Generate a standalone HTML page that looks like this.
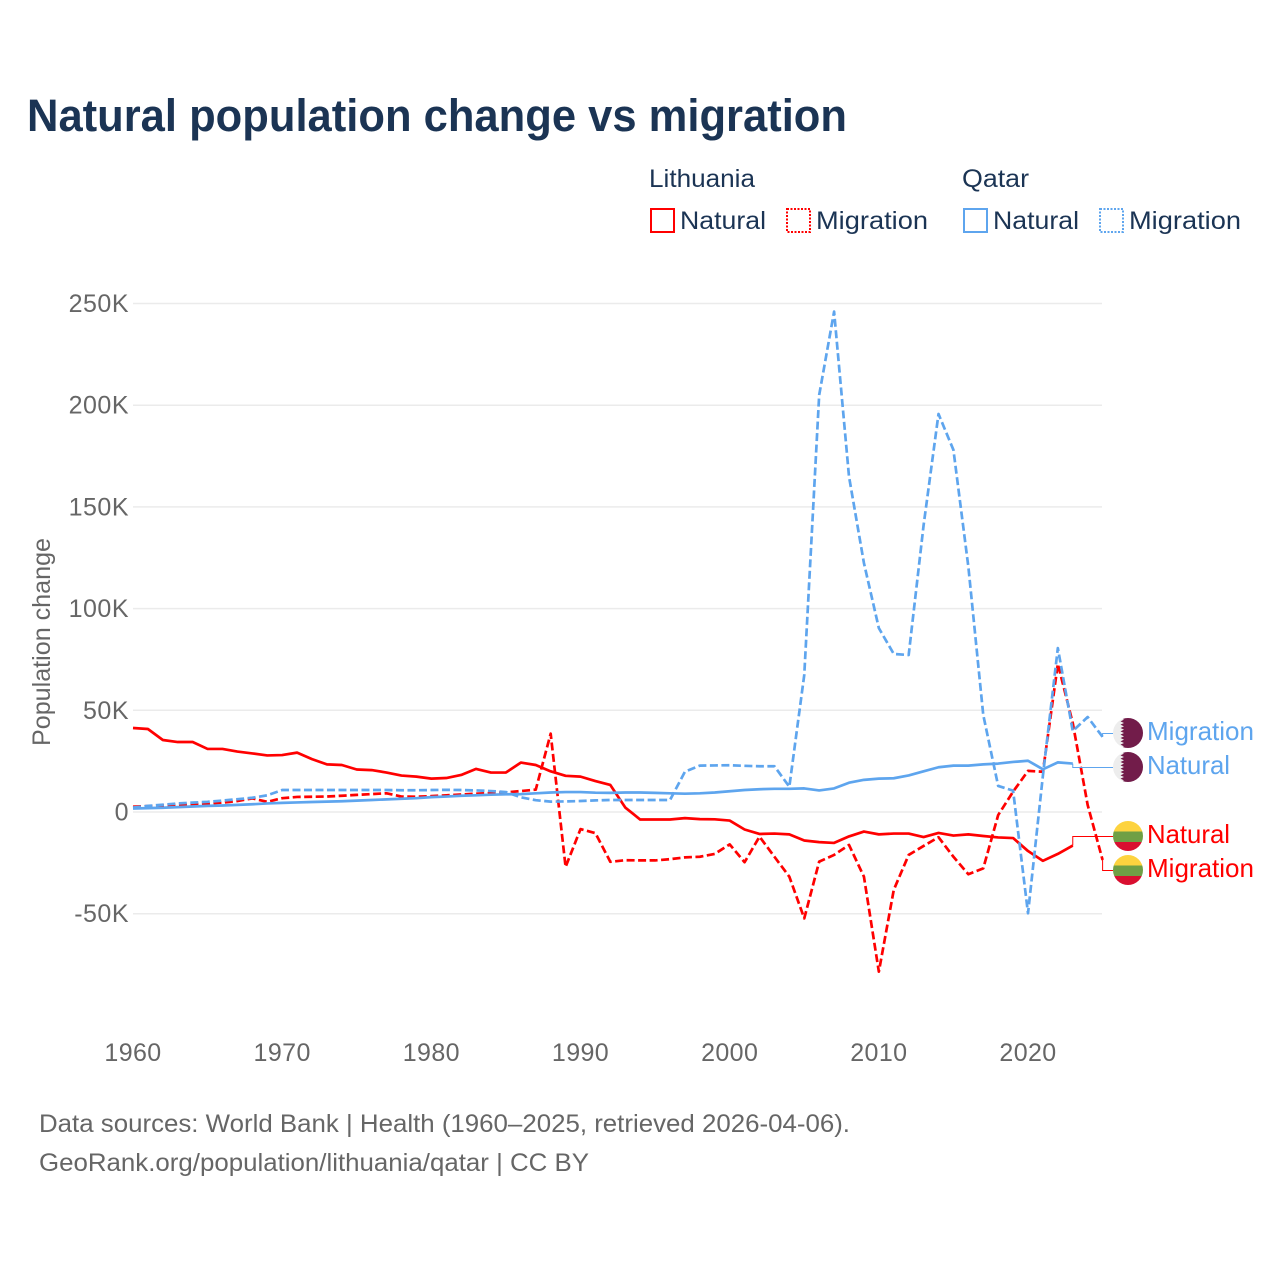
<!DOCTYPE html>
<html lang="en">
<head>
<meta charset="utf-8">
<title>Natural population change vs migration</title>
<style>
html,body{margin:0;padding:0;background:#fff;}
svg{display:block;font-family:"Liberation Sans",sans-serif;}
.legend{font-size:25px;fill:#1b3454;}
.tick{font-size:25px;fill:#666;}
.foot{font-size:25px;fill:#666;}
.end{font-size:26px;}
</style>
</head>
<body>
<svg id="chart" width="1280" height="1280" viewBox="0 0 1280 1280" xmlns="http://www.w3.org/2000/svg">
  <rect width="1280" height="1280" fill="#fff"/>
  <text x="27" y="131" font-size="45" font-weight="700" fill="#1b3454" textLength="820" lengthAdjust="spacingAndGlyphs">Natural population change vs migration</text>

  <g>
    <text class="legend" x="649" y="187" textLength="106" lengthAdjust="spacingAndGlyphs">Lithuania</text>
    <text class="legend" x="962" y="187" textLength="67" lengthAdjust="spacingAndGlyphs">Qatar</text>
    <rect x="651" y="209" width="23" height="23" fill="none" stroke="#ff0000" stroke-width="2"/>
    <text class="legend" x="680" y="229" textLength="86" lengthAdjust="spacingAndGlyphs">Natural</text>
    <rect x="787" y="209" width="23" height="23" fill="none" stroke="#ff0000" stroke-width="2" stroke-dasharray="2 1.5"/>
    <text class="legend" x="816" y="229" textLength="112" lengthAdjust="spacingAndGlyphs">Migration</text>
    <rect x="964" y="209" width="23" height="23" fill="none" stroke="#5ea5ee" stroke-width="2"/>
    <text class="legend" x="993" y="229" textLength="86" lengthAdjust="spacingAndGlyphs">Natural</text>
    <rect x="1100" y="209" width="23" height="23" fill="none" stroke="#5ea5ee" stroke-width="2" stroke-dasharray="2 1.5"/>
    <text class="legend" x="1129" y="229" textLength="112" lengthAdjust="spacingAndGlyphs">Migration</text>
  </g>

  <text class="tick" transform="translate(50,642) rotate(-90)" text-anchor="middle" textLength="208" lengthAdjust="spacingAndGlyphs">Population change</text>

  <g id="grid"></g>
  <g id="yticks"></g>
  <g id="xticks"></g>
  <g id="series"></g>

  <defs>
    <clipPath id="flagClip"><circle cx="0" cy="0" r="15"/></clipPath>
  </defs>
  <g id="flags"></g>

  <text class="end" x="1147" y="740" fill="#5ea5ee" textLength="107" lengthAdjust="spacingAndGlyphs">Migration</text>
  <text class="end" x="1147" y="774" fill="#5ea5ee" textLength="83" lengthAdjust="spacingAndGlyphs">Natural</text>
  <text class="end" x="1147" y="843" fill="#ff0000" textLength="83" lengthAdjust="spacingAndGlyphs">Natural</text>
  <text class="end" x="1147" y="877" fill="#ff0000" textLength="107" lengthAdjust="spacingAndGlyphs">Migration</text>

  <text class="foot" x="39" y="1132" textLength="811" lengthAdjust="spacingAndGlyphs">Data sources: World Bank | Health (1960–2025, retrieved 2026-04-06).</text>
  <text class="foot" x="39" y="1171" textLength="550" lengthAdjust="spacingAndGlyphs">GeoRank.org/population/lithuania/qatar | CC BY</text>
</svg>

<script>
// Values in thousands of people
const years = [1960,1961,1962,1963,1964,1965,1966,1967,1968,1969,1970,1971,1972,1973,1974,1975,1976,1977,1978,1979,1980,1981,1982,1983,1984,1985,1986,1987,1988,1989,1990,1991,1992,1993,1994,1995,1996,1997,1998,1999,2000,2001,2002,2003,2004,2005,2006,2007,2008,2009,2010,2011,2012,2013,2014,2015,2016,2017,2018,2019,2020,2021,2022,2023,2024,2025];
const lithuaniaNatural = [41.3,40.8,35.4,34.4,34.4,31,31,29.7,28.8,27.8,28,29.2,26,23.4,23.1,20.9,20.6,19.4,17.9,17.4,16.4,16.7,18.2,21.2,19.4,19.4,24.3,23.1,20,17.8,17.4,15.2,13.3,2.2,-3.7,-3.7,-3.7,-3,-3.5,-3.6,-4.2,-8.6,-10.8,-10.6,-11,-14,-14.8,-15.2,-12,-9.6,-11,-10.6,-10.6,-12.3,-10.3,-11.6,-11,-11.8,-12.5,-12.8,-19.2,-24,-20.6,-16.5];
const lithuaniaMigration = [2.6,2.9,3.2,3.5,3.8,4.1,4.6,5.4,6.7,5,6.8,7.4,7.5,7.6,8,8.4,8.8,9.2,7.6,7.5,7.8,8.2,8.6,9,9.3,9.6,10.3,11,38.5,-27,-8.4,-10.4,-24.5,-23.7,-23.8,-23.8,-23.2,-22.3,-22,-20.6,-15.9,-24.7,-12.1,-22,-31.8,-52.3,-24.4,-21.1,-16.2,-31.8,-78.5,-38.3,-21.1,-16.7,-12.4,-22,-30.6,-27.7,-1.5,10,20.2,19.8,72.8,43.7,3.4,-23.6];
const qatarNatural = [1.7,1.9,2.1,2.4,2.7,3,3.2,3.5,3.8,4.2,4.5,4.7,4.9,5.1,5.3,5.6,5.9,6.2,6.5,6.8,7.3,7.6,8,8.2,8.5,8.7,8.8,9.2,9.6,9.8,9.8,9.5,9.4,9.6,9.6,9.4,9.2,9,9.2,9.6,10.2,10.8,11.2,11.4,11.4,11.6,10.6,11.6,14.4,15.8,16.4,16.6,18,20,22,22.8,22.8,23.4,23.8,24.6,25.2,21,24.4,23.8];
const qatarMigration = [2.2,3,3.6,4.2,4.6,5,5.6,6.3,7,8.2,10.8,10.8,10.8,10.8,10.8,10.8,10.8,10.8,10.7,10.7,10.8,10.9,10.8,10.6,10.3,9.8,7.2,5.8,5.1,5.2,5.4,5.7,5.9,5.9,5.9,5.9,5.9,19.8,22.8,22.9,23,22.7,22.5,22.5,12.4,67.4,205,246,164.9,122.4,90.4,77.7,77.2,141,195.7,178,120.6,47.7,12.8,10.5,-49.8,18,80.6,39.8,46.7,36.9];
const yTickValues = [250,200,150,100,50,0,-50];
const yTickLabels = ["250K","200K","150K","100K","50K","0","-50K"];
const xTickValues = [1960,1970,1980,1990,2000,2010,2020];

const NS = "http://www.w3.org/2000/svg";
const xScale = year => 133 + (year - 1960) * (1102.6 - 133) / 65;
const yScale = value => 812 - value * (812 - 303.5) / 250;

function make(tag, parent) {
  const el = document.createElementNS(NS, tag);
  parent.appendChild(el);
  return el;
}

const grid = document.getElementById("grid");
const yTicks = document.getElementById("yticks");
yTickValues.forEach((v, i) => {
  const line = make("line", grid);
  
  
  line.setAttribute("x1", 133);
  line.setAttribute("x2", 1102);
  line.setAttribute("y1", yScale(v));
  line.setAttribute("y2", yScale(v));
  line.setAttribute("stroke", "#ebebeb");
  line.setAttribute("stroke-width", "1.5");
  const t = make("text", yTicks);
  
  
  t.setAttribute("class", "tick");
  t.setAttribute("x", 129);
  t.setAttribute("y", yScale(v) + 8.5);
  t.setAttribute("text-anchor", "end");
  t.style.letterSpacing = "0.5px";
  t.textContent = yTickLabels[i];
});

const xTicks = document.getElementById("xticks");
xTickValues.forEach(v => {
  const t = make("text", xTicks);
  
  
  t.setAttribute("class", "tick");
  t.setAttribute("x", xScale(v));
  t.setAttribute("y", 1061);
  t.setAttribute("text-anchor", "middle");
  t.style.letterSpacing = "0.4px";
  t.textContent = String(v);
});

const seriesGroup = document.getElementById("series");
function drawSeries(values, color, dashed, labelY, key) {
  const pts = values.map((v, i) => [xScale(years[i]), yScale(v)]);
  const path = make("path", seriesGroup);
  
  
  path.setAttribute("d", pts.map((p, i) => (i ? "L" : "M") + p[0].toFixed(2) + " " + p[1].toFixed(2)).join(""));
  path.setAttribute("fill", "none");
  path.setAttribute("stroke", color);
  path.setAttribute("stroke-width", "2.7");
  path.setAttribute("stroke-linejoin", "round");
  if (dashed) path.setAttribute("stroke-dasharray", "8 3.5");
  const last = pts[pts.length - 1];
  const conn = make("path", seriesGroup);
  
  
  conn.setAttribute("d", "M" + last[0].toFixed(2) + " " + last[1].toFixed(2) + "V" + labelY + "H1113");
  conn.setAttribute("fill", "none");
  conn.setAttribute("stroke", color);
  conn.setAttribute("stroke-width", "1");
}
drawSeries(lithuaniaNatural, "#ff0000", false, 836.5, "lithuania-natural");
drawSeries(lithuaniaMigration, "#ff0000", true, 870.5, "lithuania-migration");
drawSeries(qatarNatural, "#5ea5ee", false, 767.5, "qatar-natural");
drawSeries(qatarMigration, "#5ea5ee", true, 733.5, "qatar-migration");

const flags = document.getElementById("flags");
function band(parent, x, y, w, h, fill) {
  const r = make("rect", parent);
  r.setAttribute("x", x);
  r.setAttribute("y", y);
  r.setAttribute("width", w);
  r.setAttribute("height", h);
  r.setAttribute("fill", fill);
}
function qatarFlag(cy, name) {
  const g = make("g", flags);
  
  
  g.setAttribute("transform", "translate(1128," + cy + ")");
  g.setAttribute("clip-path", "url(#flagClip)");
  band(g, -15, -15, 30, 30, "#ededed");
  const poly = make("polygon", g);
  const teeth = 9, step = 30 / teeth;
  let p = "15,-15 ";
  for (let i = 0; i < teeth; i++) {
    p += "-7.5," + (-15 + i * step).toFixed(2) + " -4," + (-15 + (i + 0.5) * step).toFixed(2) + " ";
  }
  p += "-7.5,15 15,15";
  poly.setAttribute("points", p);
  poly.setAttribute("fill", "#721c4a");
}
function lithuaniaFlag(cy, name) {
  const g = make("g", flags);
  
  
  g.setAttribute("transform", "translate(1128," + cy + ")");
  g.setAttribute("clip-path", "url(#flagClip)");
  band(g, -15, -15, 30, 10.5, "#fdd33f");
  band(g, -15, -4.5, 30, 10.5, "#6f9f45");
  band(g, -15, 6, 30, 9, "#d90f30");
}
qatarFlag(733, "flag-qatar-migration");
qatarFlag(767, "flag-qatar-natural");
lithuaniaFlag(836, "flag-lithuania-natural");
lithuaniaFlag(870, "flag-lithuania-migration");
</script>
</body>
</html>
